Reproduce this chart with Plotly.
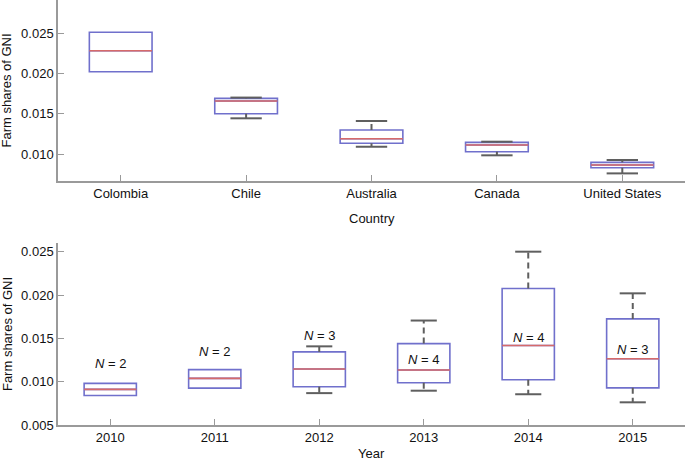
import plotly.graph_objects as go

# ---- data: top panel (by country) ----
countries = ["Colombia", "Chile", "Australia", "Canada", "United States"]
c_low = [0.0202, 0.01443, 0.0109, 0.00984, 0.0076]
c_q1 = [0.0202, 0.0150, 0.01133, 0.01029, 0.0083]
c_med = [0.0228, 0.01658, 0.0119, 0.01112, 0.00864]
c_q3 = [0.0251, 0.0169, 0.01298, 0.01145, 0.00897]
c_high = [0.0251, 0.0170, 0.0141, 0.01153, 0.00926]

# ---- data: bottom panel (by year) ----
years = ["2010", "2011", "2012", "2013", "2014", "2015"]
y_low = [0.00841, 0.00926, 0.00868, 0.00896, 0.00855, 0.00762]
y_q1 = [0.00841, 0.00926, 0.00942, 0.00988, 0.01023, 0.00929]
y_med = [0.00911, 0.01038, 0.01147, 0.01135, 0.01417, 0.01265]
y_q3 = [0.0098, 0.01139, 0.01344, 0.0144, 0.02076, 0.01725]
y_high = [0.0098, 0.01139, 0.01408, 0.01706, 0.02501, 0.0202]
n_counts = [2, 2, 3, 4, 4, 3]
n_label_y = [0.0121, 0.01347, 0.0153, 0.01254, 0.01514, 0.0137]

BOX_COLOR = "#7070cc"
MED_COLOR = "#d66a6a"
WHISK_COLOR = "#5f5f5f"
AXIS_COLOR = "#9a9a9a"
TEXT_COLOR = "#111111"
FONT = "Liberation Sans, Arial, Helvetica, sans-serif"

BOX_W = 0.5
CAP_HALF = 0.125

fig = go.Figure()


def add_panel(low, q1, med, q3, high, xa, ya):
    xs = list(range(len(med)))
    fig.add_trace(go.Box(
        x=xs, q1=q1, median=med, q3=q3, lowerfence=q1, upperfence=q3,
        width=BOX_W, whiskerwidth=0, line=dict(color=BOX_COLOR, width=1.6),
        fillcolor="rgba(0,0,0,0)", boxpoints=False, hoverinfo="skip",
        showlegend=False, xaxis=xa, yaxis=ya))
    # whiskers (dashed) and caps
    wx, wy, cx, cy = [], [], [], []
    for i in xs:
        if high[i] > q3[i]:
            wx += [i, i, None]; wy += [q3[i], high[i], None]
            cx += [i - CAP_HALF, i + CAP_HALF, None]; cy += [high[i], high[i], None]
        if low[i] < q1[i]:
            wx += [i, i, None]; wy += [q1[i], low[i], None]
            cx += [i - CAP_HALF, i + CAP_HALF, None]; cy += [low[i], low[i], None]
    fig.add_trace(go.Scatter(x=wx, y=wy, mode="lines",
                             line=dict(color=WHISK_COLOR, width=2, dash="6px,4px"),
                             hoverinfo="skip", showlegend=False, xaxis=xa, yaxis=ya))
    fig.add_trace(go.Scatter(x=cx, y=cy, mode="lines",
                             line=dict(color=WHISK_COLOR, width=2),
                             hoverinfo="skip", showlegend=False, xaxis=xa, yaxis=ya))
    # median lines
    mx, my = [], []
    for i in xs:
        mx += [i - BOX_W / 2, i + BOX_W / 2, None]; my += [med[i], med[i], None]
    fig.add_trace(go.Scatter(x=mx, y=my, mode="lines",
                             line=dict(color=MED_COLOR, width=1.6),
                             hoverinfo="skip", showlegend=False, xaxis=xa, yaxis=ya))


add_panel(c_low, c_q1, c_med, c_q3, c_high, "x", "y")
add_panel(y_low, y_q1, y_med, y_q3, y_high, "x2", "y2")

for i, n in enumerate(n_counts):
    fig.add_annotation(x=i, y=n_label_y[i], xref="x2", yref="y2",
                       text=f"<i>N</i> = {n}", showarrow=False,
                       xanchor="center", yanchor="middle",
                       font=dict(family=FONT, size=13, color=TEXT_COLOR))

TOP_DOM = [0.574, 1]
BOT_DOM = [0, 0.428]
title_font = dict(family=FONT, size=13, color=TEXT_COLOR)

# axis titles
for dom in (TOP_DOM, BOT_DOM):
    fig.add_annotation(text="Farm shares of GNI", xref="paper", yref="paper",
                       x=0, y=sum(dom) / 2, xshift=-51, textangle=-90,
                       xanchor="center", yanchor="middle",
                       showarrow=False, font=title_font)
fig.add_annotation(text="Country", xref="paper", yref="paper",
                   x=0.5, y=TOP_DOM[0], yshift=-37, xanchor="center", yanchor="middle",
                   showarrow=False, font=title_font)
fig.add_annotation(text="Year", xref="paper", yref="paper",
                   x=0.5, y=BOT_DOM[0], yshift=-28, xanchor="center", yanchor="middle",
                   showarrow=False, font=title_font)

axis_common = dict(showline=True, linecolor=AXIS_COLOR, linewidth=1.5,
                   showgrid=False, zeroline=False, ticks="inside", ticklen=6,
                   tickcolor=AXIS_COLOR, tickwidth=1, automargin=False,
                   tickfont=dict(family=FONT, size=13, color=TEXT_COLOR))

fig.update_layout(
    width=685, height=461,
    margin=dict(l=58, r=0, t=0, b=36),
    paper_bgcolor="white", plot_bgcolor="white",
    font=dict(family=FONT, size=13, color=TEXT_COLOR),
    xaxis=dict(domain=[0, 1], anchor="y", range=[-0.5, 4.5],
               tickvals=list(range(len(countries))), ticktext=countries,
               **axis_common),
    yaxis=dict(domain=TOP_DOM, anchor="x", range=[0.00665, 0.0291],
               tickvals=[0.010, 0.015, 0.020, 0.025], tickformat=".3f",
               **axis_common),
    xaxis2=dict(domain=[0, 1], anchor="y2", range=[-0.5, 5.5],
                tickvals=list(range(len(years))), ticktext=years,
                **axis_common),
    yaxis2=dict(domain=BOT_DOM, anchor="x2", range=[0.005, 0.026],
                tickvals=[0.005, 0.010, 0.015, 0.020, 0.025], tickformat=".3f",
                **axis_common),
)

fig.write_html("out.html", config={"displayModeBar": False},
               post_script="document.body.style.margin='0';document.body.style.padding='0';")
